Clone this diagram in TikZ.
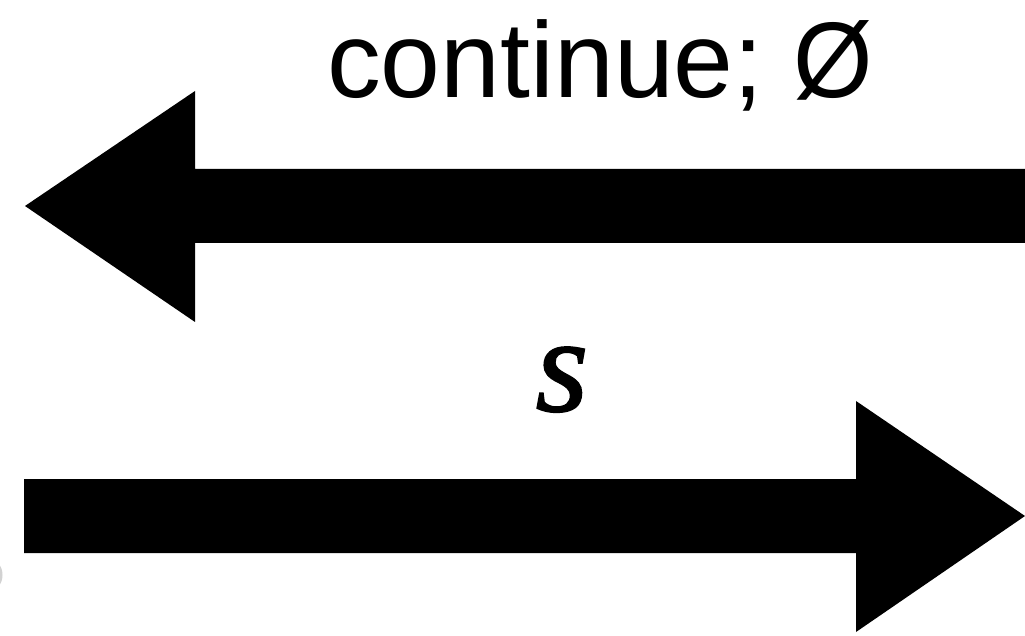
\documentclass[tikz,border=0pt]{standalone}
\usepackage{fontspec}
\setmainfont{Liberation Sans}
\newfontfamily\serifit[ItalicFeatures={FakeBold=1.2}]{Liberation Serif}
\begin{document}
\begin{tikzpicture}[x=1pt,y=1pt,
  fatarrow/.style={fill=black,draw=none},
  labeltext/.style={inner sep=0pt,anchor=base,font=\fontsize{107.5}{126}\selectfont},
  varlabel/.style={inner sep=0pt,anchor=base,font=\serifit\itshape\fontsize{136}{150}\selectfont}]
\useasboundingbox (0,0) rectangle (1025,635);
\begin{scope}
\clip (0,0) rectangle (1025,635);
% upper arrow, pointing left
\coordinate (lt) at (25,429);
\coordinate (rt) at (1030,429);
\fill[fatarrow] (lt) -- (195,544) -- (195,466) -- (rt |- 0,466) -- (rt |- 0,392) -- (195,392) -- (195,313) -- cycle;
% lower arrow, pointing right
\coordinate (lb) at (24,119);
\coordinate (rb) at (1025,119);
\fill[fatarrow] (rb) -- (856,234) -- (856,156) -- (lb |- 0,156) -- (lb |- 0,82) -- (856,82) -- (856,3) -- cycle;
% faint glyph fragment at the left edge
\draw[gray!35,line width=3pt] (-9,60) ellipse [x radius=10, y radius=14];
\end{scope}
\node[labeltext] (top) at (600,537) {continue; \scalebox{0.95}[1.0]{Ø}};
\node[varlabel] (var) at (562,224) {s};
\end{tikzpicture}
\end{document}
